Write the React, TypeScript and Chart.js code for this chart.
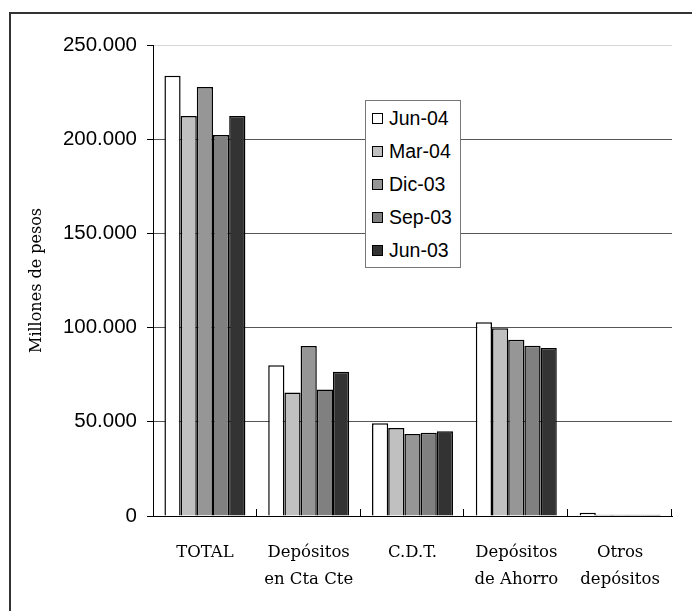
import React, { useEffect, useRef } from "react";
import { Chart, registerables } from "chart.js";

Chart.register(...registerables);

const categories: string[][] = [
  ["TOTAL"],
  ["Depósitos", "en Cta Cte"],
  ["C.D.T."],
  ["Depósitos", "de Ahorro"],
  ["Otros", "depósitos"],
];

const seriesNames = ["Jun-04", "Mar-04", "Dic-03", "Sep-03", "Jun-03"];
const seriesColors = ["#ffffff", "#c0c0c0", "#969696", "#808080", "#333333"];

const jun04 = [233700, 80000, 49200, 102800, 1700];
const mar04 = [212300, 65600, 46700, 99600, 600];
const dic03 = [227700, 90200, 43500, 93600, 600];
const sep03 = [202200, 67200, 44200, 90400, 600];
const jun03 = [212300, 76600, 45000, 89200, 600];

const seriesValues = [jun04, mar04, dic03, sep03, jun03];

const yTicks = [0, 50000, 100000, 150000, 200000, 250000];
const yTitle = "Millones de pesos";
const titleText = "(Millones de pesos)";

const fmt = (v: number) =>
  String(Math.round(v)).replace(/\B(?=(\d{3})+(?!\d))/g, ".");

const SANS = '"Liberation Sans", Arial, sans-serif';
const SERIF = '"DejaVu Serif", serif';

const insideTicks = {
  id: "insideTicks",
  afterDatasetsDraw(chart: any) {
    const { ctx, chartArea } = chart;
    const n = categories.length;
    const w = (chartArea.right - chartArea.left) / n;
    ctx.save();
    ctx.strokeStyle = "#000";
    ctx.lineWidth = 1;
    for (let i = 1; i <= n; i++) {
      const x = Math.round(chartArea.left + w * i) - 0.5;
      ctx.beginPath();
      ctx.moveTo(x, chartArea.bottom);
      ctx.lineTo(x, chartArea.bottom - 7);
      ctx.stroke();
    }
    ctx.restore();
  },
};

export default function App() {
  const ref = useRef<HTMLCanvasElement>(null);

  useEffect(() => {
    if (!ref.current) return;
    const chart = new Chart(ref.current, {
      type: "bar",
      data: {
        labels: categories as any,
        datasets: seriesNames.map((name, i) => ({
          label: name,
          data: seriesValues[i],
          backgroundColor: seriesColors[i],
          borderColor: "#000",
          borderWidth: 1.5,
          categoryPercentage: 0.78,
          barPercentage: 1,
        })),
      },
      options: {
        animation: false,
        responsive: false,
        maintainAspectRatio: false,
        layout: { padding: { left: 19, top: 37, right: 20, bottom: 0 } },
        plugins: {
          legend: { display: false },
          tooltip: { enabled: false },
          title: { display: false },
        },
        scales: {
          x: {
            grid: { display: false, drawTicks: false },
            border: { display: true, color: "#000", width: 1 },
            ticks: {
              color: "#000",
              font: { family: SERIF, size: 16.5, lineHeight: 1.65 },
              padding: 23,
              maxRotation: 0,
              autoSkip: false,
            },
            afterFit: (s: any) => {
              s.height = 95;
            },
          },
          y: {
            min: 0,
            max: 250000,
            afterBuildTicks: (s: any) => {
              s.ticks = yTicks.map((v) => ({ value: v }));
            },
            grid: {
              color: (c: any) =>
                c.tick && c.tick.value === 250000 ? "#d8d8d8" : "#555555",
              tickColor: "#000",
              tickLength: 6,
              lineWidth: 1,
            },
            border: { display: true, color: "#000", width: 1 },
            ticks: {
              color: "#000",
              font: { family: SANS, size: 20.5 },
              padding: 10,
              callback: (v: any) => fmt(Number(v)),
            },
            title: {
              display: true,
              text: yTitle,
              color: "#000",
              font: { family: SERIF, size: 16, lineHeight: 1.2 },
              padding: 0,
            },
            afterFit: (s: any) => {
              s.width = 126;
            },
          },
        },
      },
      plugins: [insideTicks],
    });
    return () => chart.destroy();
  }, []);

  return (
    <div
      style={{
        position: "fixed",
        left: 0,
        top: 0,
        width: 692,
        height: 611,
        overflow: "hidden",
        background: "#fff",
      }}
    >
      <div
        style={{
          position: "absolute",
          left: 8,
          top: -20,
          width: 666,
          textAlign: "center",
          font: `bold 17px ${SANS}`,
          color: "#000",
          whiteSpace: "nowrap",
          lineHeight: "22px",
        }}
      >
        {titleText}
      </div>
      <div
        style={{
          position: "absolute",
          left: 9,
          top: 12,
          width: 700,
          height: 620,
          borderLeft: "2px solid #333",
          borderTop: "2px solid #333",
          boxSizing: "border-box",
        }}
      />
      <canvas
        ref={ref}
        width={684}
        height={603}
        style={{ position: "absolute", left: 8, top: 8, width: 684, height: 603 }}
      />
      <div
        style={{
          position: "absolute",
          left: 365,
          top: 100,
          width: 96,
          height: 168,
          border: "1.5px solid #777",
          background: "#fff",
          boxSizing: "border-box",
          paddingTop: 1,
          paddingLeft: 6,
        }}
      >
        {seriesNames.map((name, i) => (
          <div
            key={name}
            style={{
              height: 33,
              display: "flex",
              alignItems: "center",
              font: `19.5px ${SANS}`,
              color: "#000",
            }}
          >
            <span
              style={{
                display: "inline-block",
                width: 11,
                height: 11,
                boxSizing: "border-box",
                border: "1.5px solid #000",
                background: seriesColors[i],
                marginRight: 6,
              }}
            />
            {name}
          </div>
        ))}
      </div>
    </div>
  );
}
